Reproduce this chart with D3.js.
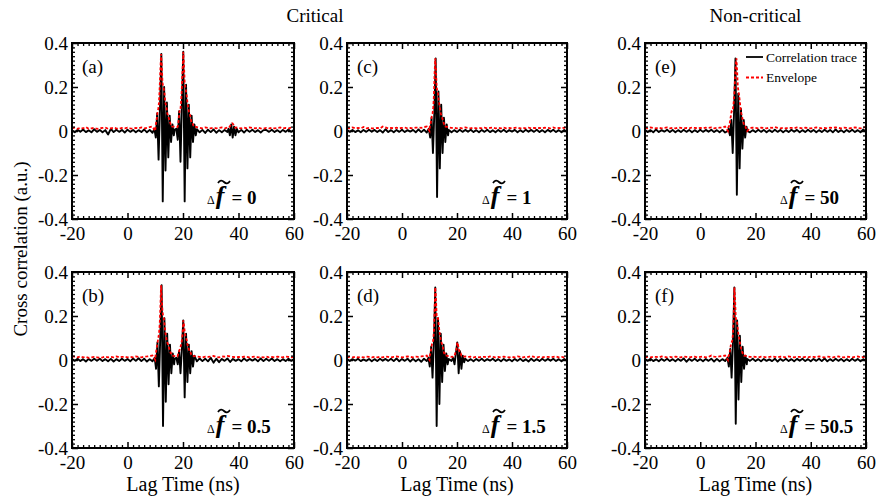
<!DOCTYPE html>
<html lang="en">
<head>
<meta charset="UTF-8">
<title>Cross correlation</title>
<script src="https://d3js.org/d3.v7.min.js"></script>
<style>
  * { margin: 0; padding: 0; box-sizing: border-box; }
  body { background: #fff; }
  svg text { font-family: "Liberation Serif", "Times New Roman", serif; fill: #000; }
</style>
</head>
<body>
<div id="chart"></div>
<script>
// ---- axis / label data ----
const xTicks = [-20, 0, 20, 40, 60];
const yTicks = [-0.4, -0.2, 0, 0.2, 0.4];
const yTickLabels = ["-0.4", "-0.2", "0", "0.2", "0.4"];
const columnTitles = ["Critical", "Non-critical"];
const panelLabels = ["(a)", "(b)", "(c)", "(d)", "(e)", "(f)"];
const detuning = ["0", "0.5", "1", "1.5", "50", "50.5"];
const legendLabels = ["Correlation trace", "Envelope"];

// baseline sampled every 1 ns from -20 ns; trace bursts every 0.5 ns, envelope bursts every 0.25 ns
const noiseT0 = -20, noiseDt = 1, traceDt = 0.5, envDt = 0.25;

// ---- (a) ----
const traceNoiseA = [.004,-.006,.005,-.003,.007,-.005,.003,-.006,.008,-.004,
  .005,-.006,.004,-.016,.01,-.005,.006,-.004,.005,-.007,
  .006,-.004,.005,-.006,.004,-.005,.007,-.006,.005,-.008,
  0,0,0,0,0,0,0,.006,-.005,0,
  0,0,0,0,0,.008,-.006,.005,-.009,.006,
  -.005,.007,-.008,.004,-.006,.005,-.004,0,0,0,
  -.006,.005,-.007,.006,-.004,.006,-.005,.004,-.007,.004,
  .005,-.004,.006,-.005,.004,-.006,.005,-.004,.007,-.004,.006];
const envNoiseA = [.012,.015,.01,.014,.012,.018,.01,.012,.015,.01,
  .012,.014,.016,.01,.012,.015,.012,.01,.014,.012,
  .015,.012,.01,.014,.012,.016,.012,.014,.018,.02,
  0,0,0,0,0,0,0,.02,.018,0,
  0,0,0,0,0,.018,.015,.012,.016,.014,
  .012,.015,.012,.014,.016,.012,.015,0,0,.016,
  .014,.012,.015,.012,.016,.014,.012,.015,.012,.01,
  .014,.012,.015,.012,.014,.016,.012,.014,.012,.015,.014];
const traceStartA = [9.7, 17.6, 36.4];
const traceBurstA = [
  [.01,-.03,.08,-.13,.1,.35,-.32,.2,-.18,.13,-.12,.07,-.05,.03,-.02],
  [.01,-.04,.09,-.14,.12,.36,-.32,.21,-.17,.12,-.12,.07,-.05,.03,-.02],
  [.01,-.02,.03,-.03,.02,-.02,.01]];
const envStartA = [10.1, 18.1, 36.6];
const envBurstA = [
  [.02,.04,.06,.09,.1,.13,.2,.28,.35,.3,.22,.2,.19,.17,.13,.12,.1,.08,.07,.06,.05,.04,.03,.03,.02],
  [.02,.04,.07,.1,.1,.14,.2,.28,.36,.3,.22,.2,.18,.16,.13,.11,.09,.08,.07,.05,.04,.04,.03,.02,.02],
  [.015,.02,.025,.03,.035,.035,.03,.025,.02,.015]];

// ---- (b) ----
const traceNoiseB = [.005,-.004,.006,-.005,.004,-.007,.005,-.004,.006,-.003,
  .006,-.005,.004,-.006,.005,-.007,.004,-.005,.006,-.004,
  .005,-.006,.007,-.004,.008,-.005,.006,-.007,.004,-.006,
  0,0,0,0,0,0,0,.005,0,0,
  0,0,0,0,0,-.006,.007,-.005,.006,-.006,
  .01,-.012,.006,-.01,.005,-.004,.007,-.009,.005,-.004,
  .004,-.006,.007,-.004,.005,-.003,.005,-.006,.007,-.005,
  .006,-.004,.007,-.005,.004,-.006,.004,-.005,.006,-.004,.005];
const envNoiseB = [.018,.014,.012,.016,.012,.014,.01,.012,.014,.012,
  .01,.012,.015,.012,.014,.012,.016,.012,.014,.015,
  .012,.014,.012,.016,.014,.012,.015,.016,.018,.02,
  0,0,0,0,0,0,0,.018,.016,0,
  0,0,0,0,.018,.016,.014,.012,.015,.014,
  .016,.018,.014,.012,.016,.015,.018,.016,.014,.012,
  .014,.012,.015,.014,.012,.014,.016,.012,.014,.012,
  .015,.012,.014,.012,.015,.014,.012,.016,.014,.012,.014];
const traceStartB = [9.8, 17.6];
const traceBurstB = [
  [.01,-.04,.08,-.12,.1,.34,-.3,.19,-.19,.12,-.11,.07,-.06,.03,-.02],
  [.01,-.02,.04,-.06,.05,.18,-.17,.12,-.1,.07,-.06,.04,-.03,.02]];
const envStartB = [10.1, 18.1];
const envBurstB = [
  [.02,.04,.06,.08,.1,.12,.16,.24,.34,.28,.22,.2,.19,.16,.13,.11,.09,.08,.07,.06,.05,.04,.03,.03,.02],
  [.02,.03,.04,.05,.06,.07,.09,.12,.18,.16,.13,.11,.1,.09,.07,.06,.05,.04,.04,.03,.02]];

// ---- (c) ----
const traceNoiseC = [.006,-.004,.005,-.005,.003,-.006,.005,-.004,.006,-.003,
  .005,-.005,.004,-.007,.008,-.005,.004,-.006,.005,-.004,
  .006,-.005,.004,-.003,.005,-.006,.007,-.005,.006,-.007,
  0,0,0,0,0,0,0,.005,-.006,.004,
  -.005,.006,-.004,.005,-.003,.006,-.005,.004,-.006,.005,
  -.004,.006,-.005,.003,-.006,.005,-.004,.006,-.005,.004,
  -.003,.005,-.006,.004,-.005,.006,-.003,.005,-.004,.006,
  -.005,.004,-.006,.005,-.003,.006,-.005,.004,-.006,.005,-.004];
const envNoiseC = [.014,.012,.016,.012,.014,.012,.018,.012,.014,.012,
  .012,.014,.012,.02,.016,.012,.014,.012,.015,.012,
  .014,.016,.012,.014,.012,.015,.016,.014,.018,.02,
  0,0,0,0,0,0,0,.016,.014,.015,
  .012,.014,.012,.016,.014,.012,.015,.012,.014,.012,
  .015,.012,.014,.016,.012,.014,.012,.015,.012,.014,
  .012,.014,.016,.012,.014,.012,.015,.012,.014,.012,
  .014,.012,.015,.014,.012,.016,.012,.014,.012,.015,.012];
const traceStartC = [9.75];
const traceBurstC = [
  [.01,-.03,.06,-.1,.08,.33,-.3,.18,-.17,.12,-.1,.06,-.05,.03,-.02]];
const envStartC = [10.1];
const envBurstC = [
  [.02,.03,.05,.07,.08,.1,.16,.26,.33,.28,.2,.18,.17,.14,.12,.1,.08,.07,.06,.05,.04,.03,.03,.02,.02]];

// ---- (d) ----
const traceNoiseD = [.005,-.005,.004,-.003,.006,-.005,.003,-.004,.005,-.006,
  .004,-.005,.006,-.003,.005,-.004,.006,-.005,.007,-.006,
  .005,-.004,.006,-.007,.005,-.006,.004,-.008,.006,-.005,
  0,0,0,0,0,0,0,.005,-.004,0,
  0,0,0,.006,-.005,.004,-.006,.005,-.004,.006,
  -.005,.004,-.003,.006,-.005,.004,-.006,.005,-.004,.003,
  -.006,.005,-.004,.006,-.005,.003,-.007,.006,-.005,.004,
  -.005,.006,-.004,.005,-.003,.006,-.005,.004,-.006,.005,-.004];
const envNoiseD = [.012,.014,.012,.015,.012,.014,.012,.016,.014,.012,
  .014,.012,.015,.012,.016,.014,.012,.014,.016,.014,
  .012,.014,.016,.014,.012,.015,.014,.016,.018,.02,
  0,0,0,0,0,0,0,.018,.014,0,
  0,0,0,.016,.014,.015,.012,.014,.012,.015,
  .014,.012,.016,.014,.012,.014,.012,.015,.014,.012,
  .014,.012,.016,.014,.012,.015,.014,.018,.014,.012,
  .014,.012,.015,.014,.012,.014,.016,.012,.014,.012,.014];
const traceStartD = [9.6, 18.6];
const traceBurstD = [
  [.01,-.03,.06,-.08,.08,.33,-.3,.19,-.2,.12,-.1,.07,-.05,.03,-.02],
  [.01,-.02,.03,.08,-.06,.04,-.04,.02,-.01]];
const envStartD = [10.1, 18.6];
const envBurstD = [
  [.02,.03,.05,.07,.08,.09,.13,.22,.33,.28,.2,.19,.19,.16,.13,.11,.09,.08,.07,.06,.04,.03,.03,.02,.02],
  [.015,.02,.02,.03,.04,.05,.08,.07,.05,.04,.03,.03,.02,.02,.015]];

// ---- (e) ----
const traceNoiseE = [.006,-.005,.004,-.006,.007,-.005,.004,-.003,.006,-.005,
  .005,-.006,.004,-.005,.006,-.004,.005,-.006,.004,-.005,
  .006,-.004,.005,-.003,.006,-.005,.004,-.006,.005,-.007,
  0,0,0,0,0,0,0,0,-.006,.004,
  -.005,.006,-.004,.005,-.006,.004,-.005,.006,-.004,.005,
  -.006,.004,-.005,.006,-.003,.005,-.006,.004,-.005,.006,
  -.004,.005,-.006,.004,-.005,.006,-.004,.005,-.006,.007,
  -.005,.004,-.006,.005,-.004,.006,-.005,.004,-.006,.007,-.005];
const envNoiseE = [.014,.012,.016,.014,.012,.015,.012,.014,.016,.012,
  .014,.012,.016,.014,.012,.014,.012,.016,.014,.012,
  .014,.012,.015,.014,.016,.012,.014,.015,.016,.02,
  0,0,0,0,0,0,0,0,.014,.015,
  .014,.012,.015,.014,.012,.016,.014,.018,.014,.012,
  .014,.012,.015,.014,.012,.016,.014,.012,.015,.014,
  .012,.014,.016,.014,.012,.014,.012,.015,.014,.016,
  .014,.012,.015,.014,.012,.014,.016,.014,.012,.016,.018];
const traceStartE = [10.25];
const traceBurstE = [
  [.01,-.02,.05,-.1,.09,.33,-.29,.17,-.17,.1,-.08,.05,-.03,.02]];
const envStartE = [10.1];
const envBurstE = [
  [.015,.02,.03,.05,.07,.09,.09,.1,.13,.17,.24,.3,.33,.27,.2,.18,.16,.13,.1,.08,.07,.05,.04,.03,.02,.02]];

// ---- (f) ----
const traceNoiseF = [.005,-.004,.006,-.005,.003,-.006,.005,-.004,.006,-.005,
  .004,-.006,.005,-.004,.007,-.008,.005,-.004,.006,-.005,
  .004,-.006,.005,-.004,.006,-.007,.005,-.006,.004,-.005,
  0,0,0,0,0,0,0,.005,-.004,.006,
  -.005,.004,-.006,.005,-.004,.003,-.005,.006,-.007,.005,
  -.004,.006,-.005,.004,-.006,.005,-.003,.006,-.005,.004,
  -.006,.005,-.004,.006,-.005,.007,-.006,.004,-.005,.006,
  -.004,.005,-.006,.004,-.005,.006,-.004,.005,-.006,.004,-.005];
const envNoiseF = [.012,.014,.012,.015,.014,.012,.016,.014,.012,.014,
  .012,.015,.014,.012,.016,.014,.012,.014,.015,.012,
  .014,.016,.012,.014,.02,.015,.014,.016,.018,.02,
  0,0,0,0,0,0,0,.016,.014,.015,
  .014,.012,.015,.014,.012,.014,.016,.014,.012,.015,
  .014,.012,.016,.014,.012,.015,.014,.012,.014,.012,
  .015,.014,.012,.016,.014,.012,.015,.014,.012,.014,
  .016,.014,.012,.015,.014,.012,.014,.016,.012,.014,.012];
const traceStartF = [9.85];
const traceBurstF = [
  [.01,-.03,.05,-.08,.08,.33,-.29,.18,-.18,.11,-.1,.06,-.04,.02,-.02]];
const envStartF = [10.1];
const envBurstF = [
  [.015,.02,.03,.05,.07,.08,.09,.12,.2,.33,.28,.19,.18,.17,.14,.11,.1,.08,.06,.05,.04,.03,.03,.02,.02,.02]];

// ---- layout ----
const W = 876, H = 498;
const colX = [[72, 294], [347, 567], [645, 866]];
const rowY = [[43, 219], [272, 448]];
const fontTick = 19;

const panels = [
  [traceNoiseA, traceStartA, traceBurstA, envNoiseA, envStartA, envBurstA],
  [traceNoiseB, traceStartB, traceBurstB, envNoiseB, envStartB, envBurstB],
  [traceNoiseC, traceStartC, traceBurstC, envNoiseC, envStartC, envBurstC],
  [traceNoiseD, traceStartD, traceBurstD, envNoiseD, envStartD, envBurstD],
  [traceNoiseE, traceStartE, traceBurstE, envNoiseE, envStartE, envBurstE],
  [traceNoiseF, traceStartF, traceBurstF, envNoiseF, envStartF, envBurstF]
];

// merge the coarse baseline samples with the finer burst samples
function buildSeries(noise, starts, bursts, dt) {
  const spans = starts.map((s, i) => [s, s + (bursts[i].length - 1) * dt]);
  const pts = [];
  noise.forEach((v, i) => {
    const t = noiseT0 + i * noiseDt;
    if (!spans.some(([a, b]) => t >= a - 0.05 && t <= b + 0.05)) pts.push([t, v]);
  });
  starts.forEach((s, i) => bursts[i].forEach((v, j) => pts.push([s + j * dt, v])));
  return pts.sort((p, q) => p[0] - q[0]);
}

const svg = d3.select("#chart").append("svg")
  .attr("width", W).attr("height", H);

const minorX = d3.range(-20, 61, 2).filter(v => v % 20 !== 0);
const minorY = d3.range(-40, 41, 2).filter(v => v % 20 !== 0).map(v => v / 100);

function styleAxis(g, width) {
  g.select(".domain").remove();
  g.selectAll(".tick line").attr("stroke", "#000").attr("stroke-width", width);
  g.selectAll(".tick text").style("font-size", fontTick + "px")
    .style("font-family", "'Liberation Serif', 'Times New Roman', serif");
}

panels.forEach((p, i) => {
  const col = Math.floor(i / 2), row = i % 2;
  const [x0, x1] = colX[col], [y0, y1] = rowY[row];
  const x = d3.scaleLinear().domain([-20, 60]).range([x0, x1]);
  const y = d3.scaleLinear().domain([-0.4, 0.4]).range([y1, y0]);
  const g = svg.append("g");

  g.append("clipPath").attr("id", "clip" + i)
    .append("rect").attr("x", x0).attr("y", y0).attr("width", x1 - x0).attr("height", y1 - y0);

  const line = d3.line().x(d => x(d[0])).y(d => y(d[1]));
  const trace = buildSeries(p[0], p[1], p[2], traceDt);
  const env = buildSeries(p[3], p[4], p[5], envDt);

  g.append("path").attr("d", line(trace))
    .attr("fill", "none").attr("stroke", "#000").attr("stroke-width", 1.9)
    .attr("stroke-linejoin", "round").attr("clip-path", `url(#clip${i})`);
  g.append("path").attr("d", line(env))
    .attr("fill", "none").attr("stroke", "#ff0000").attr("stroke-width", 1.8)
    .attr("stroke-dasharray", "3,2").attr("clip-path", `url(#clip${i})`);

  // minor ticks, all four sides, inward
  g.append("g").attr("transform", `translate(0,${y1})`)
    .call(d3.axisBottom(x).tickValues(minorX).tickSize(-3).tickFormat("")).call(a => styleAxis(a, 1.3));
  g.append("g").attr("transform", `translate(0,${y0})`)
    .call(d3.axisTop(x).tickValues(minorX).tickSize(-3).tickFormat("")).call(a => styleAxis(a, 1.3));
  g.append("g").attr("transform", `translate(${x0},0)`)
    .call(d3.axisLeft(y).tickValues(minorY).tickSize(-3).tickFormat("")).call(a => styleAxis(a, 1.3));
  g.append("g").attr("transform", `translate(${x1},0)`)
    .call(d3.axisRight(y).tickValues(minorY).tickSize(-3).tickFormat("")).call(a => styleAxis(a, 1.3));

  // major ticks
  g.append("g").attr("transform", `translate(0,${y1})`)
    .call(d3.axisBottom(x).tickValues(xTicks).tickSize(-6).tickPadding(8).tickFormat(d => d))
    .call(a => styleAxis(a, 1.5));
  g.append("g").attr("transform", `translate(0,${y0})`)
    .call(d3.axisTop(x).tickValues(xTicks).tickSize(-6).tickFormat("")).call(a => styleAxis(a, 1.5));
  g.append("g").attr("transform", `translate(${x0},0)`)
    .call(d3.axisLeft(y).tickValues(yTicks).tickSize(-6).tickPadding(4).tickFormat((d, k) => yTickLabels[k]))
    .call(a => styleAxis(a, 1.5));
  g.append("g").attr("transform", `translate(${x1},0)`)
    .call(d3.axisRight(y).tickValues(yTicks).tickSize(-6).tickFormat("")).call(a => styleAxis(a, 1.5));

  g.append("rect").attr("x", x0).attr("y", y0).attr("width", x1 - x0).attr("height", y1 - y0)
    .attr("fill", "none").attr("stroke", "#000").attr("stroke-width", 2);

  g.append("text").attr("x", x0 + 10).attr("y", y0 + 30)
    .style("font-size", "19px").text(panelLabels[i]);

  // detuning annotation
  const ax = x0 + 135, ay = y1 - 15;
  const ann = g.append("text").attr("x", ax).attr("y", ay).style("font-weight", "bold");
  ann.append("tspan").style("font-size", "12px").style("font-weight", "normal").text("\u0394");
  ann.append("tspan").attr("dx", 1).style("font-size", "26px").style("font-style", "italic").text("f");
  ann.append("tspan").attr("dx", 7).style("font-size", "19px").text("= " + detuning[i]);
  g.append("path")
    .attr("d", `M${ax + 11},${ay - 21} c2,-3 4,-3 6,-1 s4,2 6,-1`)
    .attr("fill", "none").attr("stroke", "#000").attr("stroke-width", 1.8);

  if (row === 1) {
    g.append("text").attr("x", (x0 + x1) / 2).attr("y", 491)
      .attr("text-anchor", "middle").style("font-size", "20px").text("Lag Time (ns)");
  }

  if (i === 4) {
    legendLabels.forEach((lab, k) => {
      const ly = y0 + 14 + k * 20.5;
      g.append("line").attr("x1", x1 - 120).attr("x2", x1 - 103).attr("y1", ly).attr("y2", ly)
        .attr("stroke", k === 0 ? "#000" : "#ff0000").attr("stroke-width", 1.8)
        .attr("stroke-dasharray", k === 0 ? null : "3,2");
      g.append("text").attr("x", x1 - 100).attr("y", ly + 4.5)
        .style("font-size", "13.5px").text(lab);
    });
  }
});

svg.append("text").attr("x", 315).attr("y", 22)
  .attr("text-anchor", "middle").style("font-size", "19px").text(columnTitles[0]);
svg.append("text").attr("x", (colX[2][0] + colX[2][1]) / 2).attr("y", 22)
  .attr("text-anchor", "middle").style("font-size", "19px").text(columnTitles[1]);

svg.append("text").attr("transform", "translate(27,249) rotate(-90)")
  .attr("text-anchor", "middle").style("font-size", "19px").text("Cross correlation (a.u.)");
</script>
</body>
</html>
